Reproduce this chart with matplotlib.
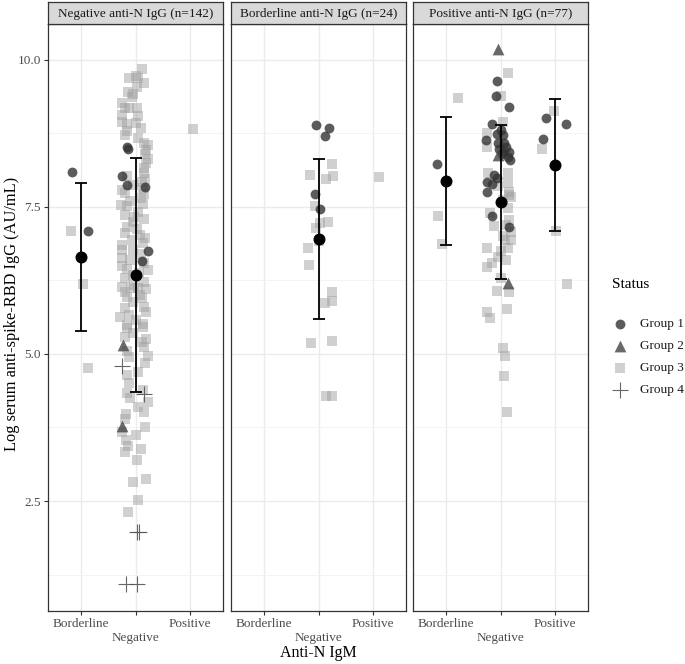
import matplotlib
matplotlib.use('Agg')
import matplotlib.pyplot as plt
import numpy as np

plt.rcParams['font.family'] = ['Liberation Serif', 'DejaVu Serif']

categories = ['Borderline', 'Negative', 'Positive']
panel_titles = ['Negative anti-N IgG (n=142)', 'Borderline anti-N IgG (n=24)', 'Positive anti-N IgG (n=77)']
group_names = ['Group 1', 'Group 2', 'Group 3', 'Group 4']

# ---- panel 1: negative anti-N IgG ----
p1_g1_igm = ['Borderline'] * 2 + ['Negative'] * 7
p1_g1_val = [8.10, 7.09, 8.52, 8.49, 8.03, 7.87, 7.84, 6.75, 6.58]
p1_g1_jit = [-0.16, 0.13, -0.15, -0.13, -0.24, -0.16, 0.18, 0.22, 0.11]

p1_g2_igm = ['Negative'] * 2
p1_g2_val = [5.15, 3.78]
p1_g2_jit = [-0.22, -0.24]

p1_g3_igm = ['Borderline'] * 3 + ['Negative'] * 121 + ['Positive']
p1_g3_val = [7.09, 6.19, 4.76,
             9.85, 9.69, 9.69, 9.61, 9.54, 9.42, 9.37, 9.27, 9.18, 9.18,
             9.18, 9.06, 8.95, 8.91, 8.93, 8.79, 8.67, 8.59, 8.47, 8.32,
             8.16, 8.08, 7.93, 7.79, 7.82,
             7.74, 7.72, 7.53, 7.52, 7.55, 7.36, 7.33, 7.30, 7.16, 7.13,
             6.94, 6.97, 6.77, 6.77, 6.63, 6.50, 6.43, 6.38, 6.29, 6.14,
             6.12, 6.12, 6.11, 5.97, 5.95, 5.78, 5.80, 5.66, 5.63, 5.49, 5.51,
             5.44, 5.46, 5.29, 5.20, 5.12, 4.97, 4.95, 4.64, 4.51, 4.34,
             4.39, 4.18, 4.10, 3.98, 3.89, 3.76, 3.67, 3.54, 3.44, 3.33, 3.20,
             2.82, 2.87, 2.52, 2.31,
             9.72, 9.45, 9.05, 8.85, 8.55, 8.40, 8.25, 7.98, 7.65, 7.60,
             7.42, 7.25, 7.05, 6.88, 6.70, 6.60, 6.55, 6.45, 6.35, 6.22,
             6.05, 6.00, 5.88, 5.72, 5.58, 5.35, 5.05, 4.85, 4.70, 4.25,
             4.02, 3.62, 3.38, 6.85, 7.88, 8.72, 8.02, 7.02, 6.18, 5.25,
             8.83]
p1_g3_jit = [-0.18, 0.04, 0.13,
             0.11, -0.11, 0.04, 0.15, 0.02, -0.04, -0.07, -0.25, -0.20, 0.02,
             -0.11, -0.24, -0.25, -0.15, 0.00, -0.15, 0.04, 0.15, 0.20, 0.22,
             0.15, 0.16, 0.11, -0.24, 0.13,
             -0.20, 0.15, -0.27, -0.15, 0.13, -0.20, -0.02, 0.16, -0.15, 0.02,
             -0.07, 0.18, -0.24, -0.05, -0.25, -0.25, 0.22, 0.07, -0.20, -0.25,
             -0.09, 0.04, 0.20, -0.15, 0.11, -0.20, 0.16, -0.11, -0.29, -0.15, 0.13,
             -0.15, 0.13, -0.20, 0.11, 0.15, 0.22, -0.11, -0.15, -0.11, -0.16,
             0.13, 0.22, 0.04, -0.18, -0.20, 0.18, -0.24, -0.18, -0.13, -0.20, 0.02,
             -0.05, 0.20, 0.05, -0.13,
             0.00, -0.13, 0.05, 0.10, 0.22, 0.18, 0.20, 0.18, 0.10, -0.10,
             0.05, -0.05, -0.20, 0.14, 0.10, -0.10, 0.16, -0.15, -0.05, 0.15,
             -0.20, 0.08, -0.05, 0.20, 0.00, -0.05, -0.15, 0.18, 0.05, -0.10,
             0.15, 0.00, 0.10, -0.25, -0.05, -0.20, -0.15, 0.08, -0.02, 0.20,
             0.05]

p1_g4_igm = ['Negative'] * 6
p1_g4_val = [4.80, 4.32, 1.97, 1.98, 1.09, 1.09]
p1_g4_jit = [-0.24, 0.16, 0.02, 0.06, -0.18, 0.02]

# ---- panel 2: borderline anti-N IgG ----
p2_g1_igm = ['Negative'] * 5
p2_g1_val = [8.90, 8.84, 8.71, 7.72, 7.46]
p2_g1_jit = [-0.04, 0.20, 0.11, -0.07, 0.02]

p2_g3_igm = ['Negative'] * 18 + ['Positive']
p2_g3_val = [8.23, 8.05, 7.98, 8.02, 7.51, 7.24, 7.15, 7.22, 6.92, 6.80,
             6.51, 6.05, 5.90, 5.87, 5.19, 5.22, 4.28, 4.28, 8.01]
p2_g3_jit = [0.25, -0.16, 0.13, 0.27, -0.07, 0.18, -0.05, 0.02, 0.00, -0.20,
             -0.18, 0.25, 0.24, 0.11, -0.13, 0.24, 0.13, 0.24, 0.10]

# ---- panel 3: positive anti-N IgG ----
p3_g1_igm = ['Borderline'] + ['Negative'] * 24 + ['Positive'] * 3
p3_g1_val = [8.23,
             9.64, 9.39, 9.20, 8.91, 8.74, 8.72, 8.64, 8.59, 8.59, 8.44,
             8.43, 8.35, 8.40, 8.04, 8.00, 7.93, 7.89, 7.75, 7.35, 7.16,
             8.80, 8.52, 8.48, 8.30,
             9.01, 8.91, 8.66]
p3_g1_jit = [-0.16,
             -0.07, -0.09, 0.15, -0.15, -0.07, 0.05, -0.27, -0.04, 0.07, 0.05,
             0.15, 0.13, 0.02, -0.11, -0.07, -0.24, -0.15, -0.25, -0.15, 0.16,
             0.00, 0.10, -0.02, 0.18,
             -0.16, 0.20, -0.22]

p3_g2_igm = ['Negative'] * 3
p3_g2_val = [10.19, 8.38, 6.20]
p3_g2_jit = [-0.05, -0.05, 0.13]

p3_g3_igm = ['Borderline'] * 3 + ['Negative'] * 39 + ['Positive'] * 4
p3_g3_val = [9.35, 7.35, 6.87,
             9.78, 9.39, 8.95, 8.76, 8.52, 8.07, 8.07, 7.91, 7.76, 7.67,
             7.48, 7.28, 7.08, 7.18, 6.94, 6.93, 6.80, 6.80, 6.65, 6.55,
             6.48, 6.07, 6.05, 5.76, 5.71, 5.61, 5.10, 4.97, 4.63, 4.01,
             7.70, 7.62, 7.40, 7.00, 6.60, 6.30, 7.85, 7.20, 6.75,
             9.13, 8.48, 7.09, 6.19]
p3_g3_jit = [0.22, -0.15, -0.07,
             0.13, 0.00, 0.04, -0.25, -0.24, -0.22, 0.13, 0.13, 0.15, 0.20,
             0.13, 0.16, 0.20, -0.11, 0.09, 0.20, -0.24, 0.13, -0.04, -0.15,
             -0.25, -0.07, 0.16, 0.11, -0.24, -0.20, 0.05, 0.09, 0.07, 0.11,
             0.16, 0.05, -0.20, 0.05, 0.10, 0.00, -0.05, 0.10, 0.00,
             -0.02, -0.24, 0.02, 0.22]

# mean +/- sd per anti-N IgM level (nan = not drawn)
p1_mean = [6.65, 6.34, np.nan]
p1_sd = [1.26, 1.99, np.nan]
p2_mean = [np.nan, 6.96, np.nan]
p2_sd = [np.nan, 1.36, np.nan]
p3_mean = [7.94, 7.585, 8.215]
p3_sd = [1.09, 1.305, 1.125]

styles = {
    'Group 1': dict(marker='o', s=50, color='#333333', alpha=0.8, linewidths=0),
    'Group 2': dict(marker='^', s=72, color='#444444', alpha=0.8, linewidths=0),
    'Group 3': dict(marker='s', s=48, color='#9e9e9e', alpha=0.48, linewidths=0),
    'Group 4': dict(marker='+', s=120, color='#555555', alpha=0.9, linewidths=0.8),
}

panels = [
    [('Group 3', p1_g3_igm, p1_g3_val, p1_g3_jit),
     ('Group 1', p1_g1_igm, p1_g1_val, p1_g1_jit),
     ('Group 2', p1_g2_igm, p1_g2_val, p1_g2_jit),
     ('Group 4', p1_g4_igm, p1_g4_val, p1_g4_jit)],
    [('Group 3', p2_g3_igm, p2_g3_val, p2_g3_jit),
     ('Group 1', p2_g1_igm, p2_g1_val, p2_g1_jit)],
    [('Group 3', p3_g3_igm, p3_g3_val, p3_g3_jit),
     ('Group 1', p3_g1_igm, p3_g1_val, p3_g1_jit),
     ('Group 2', p3_g2_igm, p3_g2_val, p3_g2_jit)],
]
summaries = [(p1_mean, p1_sd), (p2_mean, p2_sd), (p3_mean, p3_sd)]

W, H = 685, 664
fig = plt.figure(figsize=(W / 100, H / 100), dpi=100)

lefts = [48, 231, 413]
pw = 175
top, bottom = 24, 611
xpos = {c: i + 1 for i, c in enumerate(categories)}

for k in range(3):
    ax = fig.add_axes([lefts[k] / W, 1 - bottom / H, pw / W, (bottom - top) / H])
    ax.set_xlim(0.4, 3.6)
    ax.set_ylim(0.63, 10.61)
    ax.set_xticks([1, 2, 3])
    ax.set_xticklabels(['Borderline', '\nNegative', 'Positive'])
    ax.set_yticks([2.5, 5.0, 7.5, 10.0])
    ax.set_yticks([1.25, 3.75, 6.25, 8.75], minor=True)
    ax.grid(True, which='major', color='#ebebeb', lw=1.0, zorder=0)
    ax.grid(True, which='minor', axis='y', color='#f2f2f2', lw=0.6, zorder=0)
    ax.set_axisbelow(True)
    for sp in ax.spines.values():
        sp.set_color('#333333')
        sp.set_linewidth(0.9)
    ax.tick_params(axis='both', which='major', length=3, color='#333333',
                   labelcolor='#4d4d4d', labelsize=9.5, pad=2)
    ax.tick_params(axis='y', which='minor', length=0)
    if k > 0:
        ax.tick_params(axis='y', which='major', length=0, labelleft=False)
    else:
        ax.set_yticklabels(['2.5', '5.0', '7.5', '10.0'])

    for grp, igm, vals, jit in panels[k]:
        xs = np.array([xpos[c] for c in igm]) + np.array(jit)
        ax.scatter(xs, vals, zorder=3, **styles[grp])

    means, sds = summaries[k]
    for i, (m, s) in enumerate(zip(means, sds)):
        if np.isnan(m):
            continue
        ax.errorbar(i + 1, m, yerr=s, fmt='none', ecolor='black', elinewidth=1.3,
                    capsize=4, capthick=1.3, zorder=4)
        ax.scatter([i + 1], [m], s=58, color='black', zorder=5)

    sax = fig.add_axes([lefts[k] / W, 1 - top / H, pw / W, 22 / H])
    sax.set_facecolor('#d9d9d9')
    sax.set_xticks([])
    sax.set_yticks([])
    for sp in sax.spines.values():
        sp.set_color('#333333')
        sp.set_linewidth(0.9)
    sax.text(0.5, 0.47, panel_titles[k], ha='center', va='center',
             fontsize=9.5, color='#1a1a1a', transform=sax.transAxes)

fig.text(12 / W, 1 - 314 / H, 'Log serum anti-spike-RBD IgG (AU/mL)', rotation=90,
         ha='center', va='center', fontsize=11.8)
fig.text(318 / W, 1 - 653 / H, 'Anti-N IgM', ha='center', va='center', fontsize=11.5)

# legend drawn by hand in pixel space
lax = fig.add_axes([0, 0, 1, 1], facecolor='none')
lax.set_xlim(0, W)
lax.set_ylim(H, 0)
lax.axis('off')
lax.text(612, 285, 'Status', ha='left', va='center', fontsize=11)
for j, g in enumerate(group_names):
    yy = 324 + 22 * j
    lax.scatter([620], [yy], **styles[g])
    lax.text(640, yy, g, ha='left', va='center', fontsize=9.5, color='#1a1a1a')

fig.savefig('out.png', dpi=100)
